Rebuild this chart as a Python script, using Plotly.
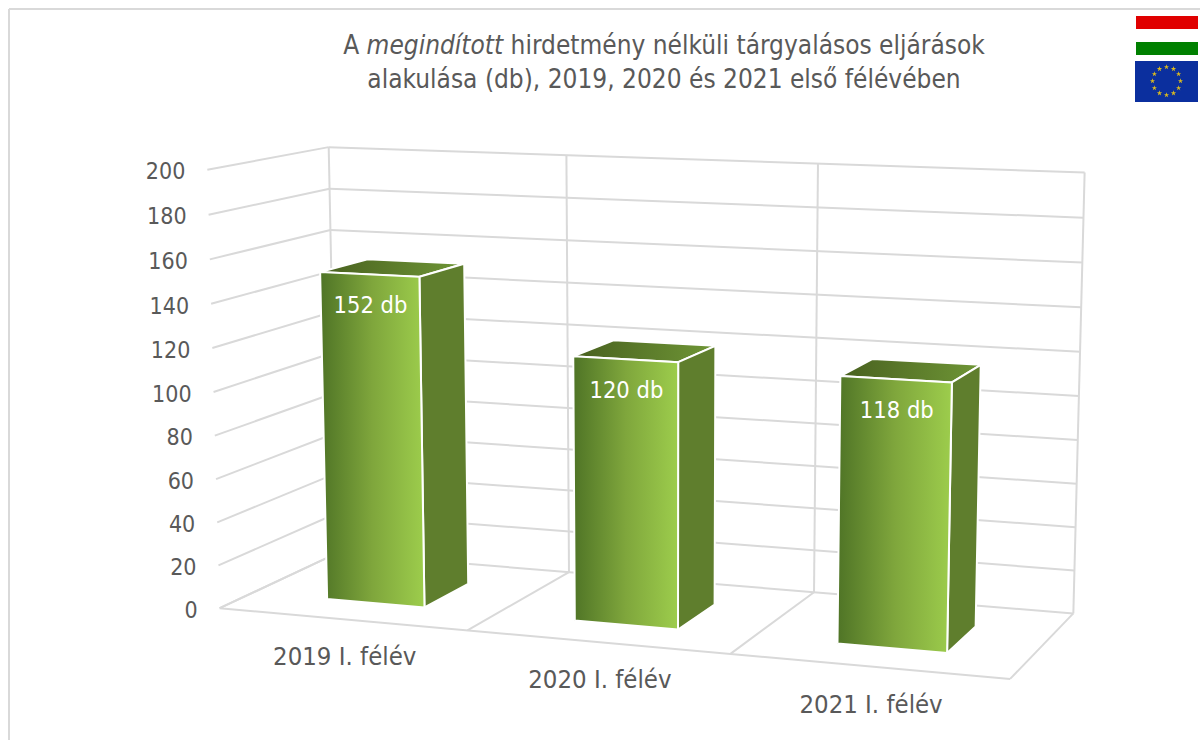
import numpy as np
import plotly.graph_objects as go

# ---- data ----
categories = ["2019 I. félév", "2020 I. félév", "2021 I. félév"]
values = [152, 120, 118]
value_ticks = [0, 20, 40, 60, 80, 100, 120, 140, 160, 180, 200]
title_text = ("A <i>megindított</i> hirdetmény nélküli tárgyalásos eljárások<br>"
              "alakulása (db), 2019, 2020 és 2021 első félévében")
unit = "db"

# ---- style ----
FONT = "DejaVu Sans Condensed, Tahoma, DejaVu Sans, sans-serif"
TEXT = "#595959"
GRID = "#d9d9d9"
FRONT_SCALE = [[0, "#4f7426"], [0.5, "#7fa63c"], [1, "#9dcd4c"]]
TOP_SCALE = [[0, "#48601f"], [1, "#6f9636"]]
SIDE = "#5f7e2d"
BAR_L, BAR_R = 0.31, 0.71    # bar extent inside a category slot
BAR_F, BAR_B = 0.27, 0.68    # bar extent in depth

# ---- camera of the 3D box: (category, depth, value) -> screen ----
anchors = [
    (0, 0, 0, 219, 608), (1, 0, 0, 467, 630), (2, 0, 0, 732, 653), (3, 0, 0, 1010, 679),
    (0, 0, 200, 207, 171), (0, 1, 200, 329, 146), (1, 1, 200, 567, 156),
    (2, 1, 200, 817, 163), (3, 1, 200, 1085, 172),
    (1, 1, 0, 570, 572), (2, 1, 0, 813, 593), (3, 1, 0, 1073, 614),
]
rows = []
for c, d, v, px, py in anchors:
    X = [c, d, v / 200, 1]
    u, w = px / 1000, py / 1000
    rows.append(X + [0, 0, 0, 0] + [-u * a for a in X])
    rows.append([0, 0, 0, 0] + X + [-w * a for a in X])
CAM = np.linalg.svd(np.array(rows, float))[2][-1].reshape(3, 4)


def proj(c, d, v):
    p = CAM @ np.array([c, d, v / 200, 1.0])
    return p[0] / p[2] * 1000, p[1] / p[2] * 1000


def segs(pairs):
    xs, ys = [], []
    for a, b in pairs:
        for q in (a, b):
            x, y = proj(*q)
            xs.append(x)
            ys.append(y)
        xs.append(None)
        ys.append(None)
    return xs, ys


def poly(points):
    pts = [proj(*q) for q in points + points[:1]]
    return [p[0] for p in pts], [p[1] for p in pts]


fig = go.Figure()

# grid of the box
n = len(categories)
pairs = []
for v in value_ticks:
    pairs.append(((0, 0, v), (0, 1, v)))
    pairs.append(((0, 1, v), (n, 1, v)))
for c in range(n + 1):
    pairs.append(((c, 1, 0), (c, 1, value_ticks[-1])))
    pairs.append(((c, 0, 0), (c, 1, 0)))
pairs.append(((0, 0, 0), (n, 0, 0)))
gx, gy = segs(pairs)
fig.add_trace(go.Scatter(x=gx, y=gy, mode="lines", line=dict(color=GRID, width=2),
                         hoverinfo="skip", showlegend=False))

# bars
for i, val in enumerate(values):
    l, r = i + BAR_L, i + BAR_R
    top = [(l, BAR_F, val), (r, BAR_F, val), (r, BAR_B, val), (l, BAR_B, val)]
    side = [(r, BAR_F, 0), (r, BAR_B, 0), (r, BAR_B, val), (r, BAR_F, val)]
    front = [(l, BAR_F, 0), (r, BAR_F, 0), (r, BAR_F, val), (l, BAR_F, val)]
    x, y = poly(top)
    fig.add_trace(go.Scatter(x=x, y=y, mode="lines", fill="toself", line=dict(color="white", width=2),
                             fillgradient=dict(type="horizontal", colorscale=TOP_SCALE),
                             hoverinfo="skip", showlegend=False))
    x, y = poly(side)
    fig.add_trace(go.Scatter(x=x, y=y, mode="lines", fill="toself", line=dict(color="white", width=2),
                             fillcolor=SIDE, hoverinfo="skip", showlegend=False))
    x, y = poly(front)
    fig.add_trace(go.Scatter(x=x, y=y, mode="lines", fill="toself", line=dict(color="white", width=2),
                             fillgradient=dict(type="horizontal", colorscale=FRONT_SCALE),
                             hoverinfo="skip", showlegend=False))

# data labels
lab = [proj(i + (BAR_L + BAR_R) / 2, BAR_F, val) for i, val in enumerate(values)]
fig.add_trace(go.Scatter(x=[p[0] + 1 for p in lab], y=[p[1] + 33 for p in lab], mode="text",
                         text=[f"{v} {unit}" for v in values], textposition="middle center",
                         textfont=dict(family=FONT, size=23.5, color="white"),
                         hoverinfo="skip", showlegend=False))

# value axis labels
tk = [proj(0, 0, v) for v in value_ticks]
fig.add_trace(go.Scatter(x=[p[0] - 22 for p in tk], y=[p[1] + 4 for p in tk], mode="text",
                         text=[str(v) for v in value_ticks], textposition="middle left",
                         textfont=dict(family=FONT, size=23, color=TEXT),
                         hoverinfo="skip", showlegend=False))

# category labels
cl = [proj(i + 0.5, 0, 0) for i in range(n)]
fig.add_trace(go.Scatter(x=[p[0] + 3 for p in cl], y=[p[1] + 40 for p in cl], mode="text",
                         text=categories, textposition="middle center",
                         textfont=dict(family=FONT, size=25.5, color=TEXT),
                         hoverinfo="skip", showlegend=False))

# EU flag stars
th = np.arange(12) * np.pi / 6
fig.add_trace(go.Scatter(x=1166.5 + 14 * np.cos(th), y=81 + 14 * np.sin(th), mode="markers",
                         marker=dict(symbol="star", size=4, color="#d8b820", line=dict(width=0)),
                         hoverinfo="skip", showlegend=False))

shapes = [
    dict(type="line", x0=9, y0=9, x1=1200, y1=9, line=dict(color=GRID, width=2)),
    dict(type="line", x0=9, y0=9, x1=9, y1=740, line=dict(color=GRID, width=2)),
    dict(type="rect", x0=1136, x1=1198, y0=16, y1=29, fillcolor="#e00000", line=dict(width=0)),
    dict(type="rect", x0=1136, x1=1198, y0=42, y1=55, fillcolor="#008000", line=dict(width=0)),
    dict(type="rect", x0=1135, x1=1198, y0=61, y1=102, fillcolor="#0b2f9e", line=dict(width=0), layer="below"),
]

fig.update_layout(
    width=1200, height=740, margin=dict(l=0, r=0, t=0, b=0),
    paper_bgcolor="white", plot_bgcolor="white", showlegend=False,
    xaxis=dict(range=[0, 1200], visible=False, fixedrange=True),
    yaxis=dict(range=[740, 0], visible=False, fixedrange=True),
    shapes=shapes,
    title=dict(text=title_text, x=664 / 1200, xanchor="center", y=1 - 54 / 740, yanchor="middle",
               font=dict(family=FONT, size=26, color=TEXT)),
)
fig.write_html("out.html", config={"displayModeBar": False},
               post_script="document.body.style.margin='0';")
